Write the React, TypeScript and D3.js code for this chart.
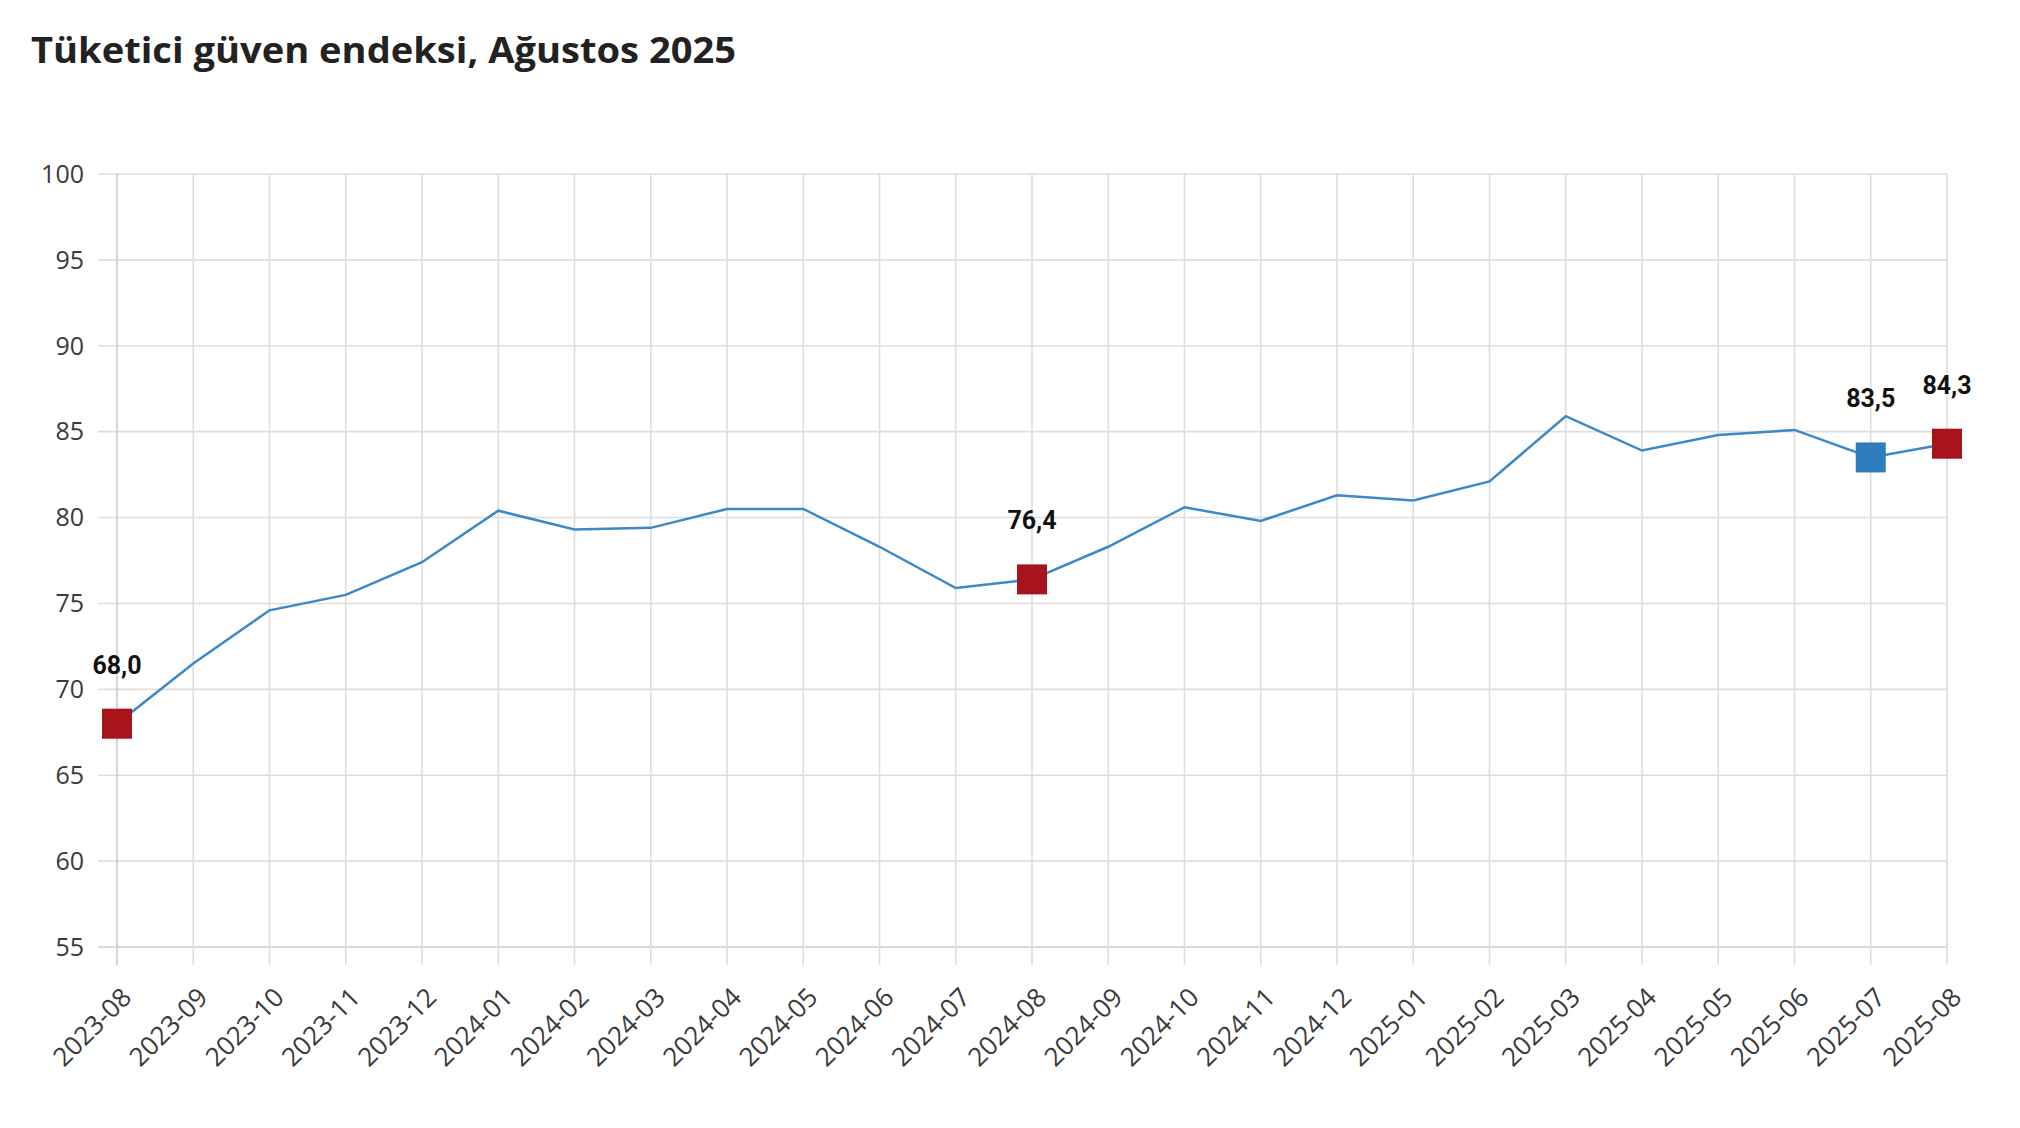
import { useEffect, useRef } from 'react';
import * as d3 from 'd3';

const MONTHS = [
  '2023-08', '2023-09', '2023-10', '2023-11', '2023-12',
  '2024-01', '2024-02', '2024-03', '2024-04', '2024-05', '2024-06', '2024-07', '2024-08',
  '2024-09', '2024-10', '2024-11', '2024-12',
  '2025-01', '2025-02', '2025-03', '2025-04', '2025-05', '2025-06', '2025-07', '2025-08',
];
const VALUES = [
  68.0, 71.5, 74.6, 75.5, 77.4,
  80.4, 79.3, 79.4, 80.5, 80.5, 78.3, 75.9, 76.4,
  78.3, 80.6, 79.8, 81.3,
  81.0, 82.1, 85.9, 83.9, 84.8, 85.1, 83.5, 84.3,
];
const RED_MONTHS = ['2023-08', '2024-08', '2025-08'];
const BLUE_MONTHS = ['2025-07'];
const Y_TICKS = [55, 60, 65, 70, 75, 80, 85, 90, 95, 100];
const TITLE = 'Tüketici güven endeksi, Ağustos 2025';

const W = 2020;
const H = 1128;
const FONT = '"Open Sans", "Noto Sans", sans-serif';

export default function App() {
  const ref = useRef<SVGSVGElement>(null);

  useEffect(() => {
    if (!ref.current) return;
    const svg = d3.select(ref.current);
    svg.selectAll('*').remove();

    const left = 117, right = 1947, top = 174, bottom = 947;
    const x = d3.scalePoint<string>().domain(MONTHS).range([left, right]);
    const y = d3.scaleLinear().domain([55, 100]).range([bottom, top]);

    svg.append('rect').attr('width', W).attr('height', H).attr('fill', '#fff');

    // title
    svg.append('text').attr('x', 31).attr('y', 63)
      .attr('font-family', FONT).attr('font-weight', 700).attr('font-size', 35)
      .attr('fill', '#222').attr('textLength', 705).attr('lengthAdjust', 'spacingAndGlyphs')
      .text(TITLE);

    const g = svg.append('g');

    // horizontal grid + y ticks
    g.append('g').selectAll('line').data(Y_TICKS).join('line')
      .attr('x1', left - 19).attr('x2', right)
      .attr('y1', d => y(d)).attr('y2', d => y(d))
      .attr('stroke', d => (d === 55 ? '#cccccc' : '#dedede')).attr('stroke-width', 1.6);

    g.append('g').selectAll('text').data(Y_TICKS).join('text')
      .attr('x', left - 33).attr('y', d => y(d)).attr('dy', '0.35em')
      .attr('text-anchor', 'end').attr('font-family', FONT).attr('font-size', 25)
      .attr('fill', '#3a3a3a').text(d => d);

    // vertical grid + x ticks
    g.append('g').selectAll('line').data(MONTHS).join('line')
      .attr('x1', d => x(d)!).attr('x2', d => x(d)!)
      .attr('y1', top).attr('y2', bottom + 18)
      .attr('stroke', (d, i) => (i === 0 ? '#cccccc' : '#dedede')).attr('stroke-width', 1.6);

    g.append('g').selectAll('text').data(MONTHS).join('text')
      .attr('transform', d => `translate(${x(d)! + 16},${bottom + 52}) rotate(-45)`)
      .attr('text-anchor', 'end').attr('font-family', FONT).attr('font-size', 26)
      .attr('fill', '#3a3a3a').text(d => d);

    // line
    const line = d3.line<number>()
      .x((_, i) => x(MONTHS[i])!)
      .y(v => y(v));
    g.append('path').datum(VALUES)
      .attr('fill', 'none').attr('stroke', '#3d88c6').attr('stroke-width', 2.5)
      .attr('d', line);

    // markers
    const marked = MONTHS.map((m, i) => ({ m, v: VALUES[i] }))
      .filter(d => RED_MONTHS.includes(d.m) || BLUE_MONTHS.includes(d.m));
    const size = 30;
    g.append('g').selectAll('rect').data(marked).join('rect')
      .attr('x', d => x(d.m)! - size / 2).attr('y', d => y(d.v) - size / 2)
      .attr('width', size).attr('height', size)
      .attr('fill', d => (BLUE_MONTHS.includes(d.m) ? '#2f7dbd' : '#a8141b'));

    g.append('g').selectAll('text').data(marked).join('text')
      .attr('x', d => x(d.m)!).attr('y', d => y(d.v) - 50)
      .attr('text-anchor', 'middle').attr('font-family', 'Roboto, sans-serif')
      .attr('font-weight', 700).attr('font-size', 25).attr('fill', '#111')
      .text(d => d.v.toFixed(1).replace('.', ','));
  }, []);

  return (
    <div style={{ position: 'absolute', left: 0, top: 0 }}>
      <svg ref={ref} width={W} height={H} style={{ display: 'block' }} />
    </div>
  );
}
